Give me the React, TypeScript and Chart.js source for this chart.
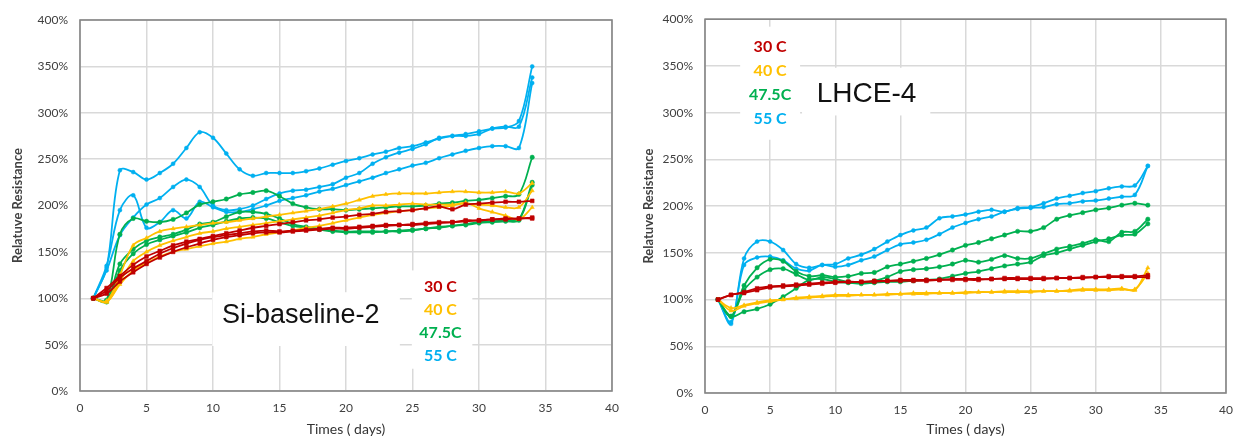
import React, { useEffect, useRef } from 'react';
import { Chart, registerables } from 'chart.js';

Chart.register(...registerables);

// ---------- data ----------
const days = [1, 2, 3, 4, 5, 6, 7, 8, 9, 10, 11, 12, 13, 14, 15, 16, 17, 18, 19, 20, 21, 22, 23, 24, 25, 26, 27, 28, 29, 30, 31, 32, 33, 34];
const xTicks = [0, 5, 10, 15, 20, 25, 30, 35, 40];
const yTicks = [0, 50, 100, 150, 200, 250, 300, 350, 400];
const tempLabels = ['30 C', '40 C', '47.5C', '55 C'];

// Si-baseline-2 (left chart)
const siRed1 = [100, 111, 124, 136, 145, 151, 157, 161, 164, 167, 170, 173, 176, 178, 180, 182, 184, 185, 187, 188, 190, 191, 193, 194, 195, 197, 199, 196, 201, 202, 203, 204, 204, 205];
const siRed2 = [100, 108, 122, 132, 140, 148, 154, 159, 163, 166, 168, 170, 172, 173, 172, 173, 174, 175, 176, 176, 177, 178, 179, 179, 180, 181, 182, 182, 184, 184, 185, 186, 186, 187];
const siRed3 = [100, 105, 118, 128, 137, 144, 150, 155, 159, 163, 166, 168, 170, 171, 171, 172, 173, 174, 175, 175, 176, 177, 178, 179, 179, 180, 181, 182, 183, 184, 185, 185, 186, 186];
const siYel1 = [100, 97, 125, 157, 165, 172, 175, 177, 179, 181, 182, 184, 186, 188, 190, 192, 194, 196, 199, 202, 206, 210, 212, 213, 213, 213, 214, 215, 215, 214, 214, 215, 213, 224];
const siYel2 = [100, 96, 118, 140, 150, 157, 162, 166, 170, 172, 175, 177, 179, 181, 183, 185, 187, 189, 192, 195, 197, 200, 200, 201, 202, 201, 201, 201, 202, 201, 200, 198, 198, 216];
const siYel3 = [100, 96, 115, 130, 138, 145, 150, 153, 156, 159, 161, 164, 166, 169, 171, 173, 176, 178, 181, 184, 187, 190, 192, 194, 195, 197, 198, 200, 203, 197, 193, 189, 185, 198];
const siGrn1 = [100, 98, 169, 186, 183, 182, 185, 192, 201, 204, 207, 212, 214, 216, 210, 202, 198, 196, 196, 195, 196, 197, 198, 199, 199, 200, 202, 203, 205, 206, 208, 210, 212, 252];
const siGrn2 = [100, 97, 137, 153, 162, 166, 169, 174, 180, 182, 188, 193, 193, 191, 186, 180, 177, 175, 173, 172, 172, 172, 172, 173, 174, 175, 177, 178, 180, 182, 183, 184, 185, 225];
const siGrn3 = [100, 96, 130, 148, 158, 163, 167, 171, 176, 179, 183, 186, 187, 186, 182, 178, 176, 174, 172, 171, 171, 171, 172, 172, 173, 175, 176, 178, 179, 181, 182, 183, 184, 222];
const siBlu1 = [100, 133, 238, 236, 228, 235, 245, 262, 279, 273, 256, 239, 232, 235, 235, 235, 237, 240, 244, 248, 251, 255, 258, 262, 264, 268, 272, 275, 277, 280, 283, 284, 291, 350];
const siBlu2 = [100, 135, 195, 211, 176, 182, 195, 186, 204, 198, 193, 193, 196, 200, 205, 208, 211, 215, 218, 222, 226, 230, 235, 239, 243, 246, 251, 255, 259, 262, 264, 264, 262, 332];
const siBlu3 = [100, 130, 168, 187, 201, 208, 220, 228, 220, 200, 195, 196, 200, 207, 213, 216, 217, 220, 223, 230, 235, 245, 252, 257, 261, 266, 273, 275, 275, 277, 283, 285, 285, 338];

// LHCE-4 (right chart)
const lhRed1 = [100, 105, 108, 112, 114, 115, 116, 117, 118, 119, 119, 119, 119, 120, 120, 120, 120, 121, 121, 121, 121, 122, 122, 122, 122, 122, 123, 123, 123, 124, 124, 124, 124, 124];
const lhRed2 = [100, 105, 107, 110, 113, 114, 115, 116, 117, 118, 119, 119, 120, 120, 121, 121, 121, 121, 122, 122, 122, 122, 123, 123, 123, 123, 123, 123, 124, 124, 125, 125, 125, 126];
const lhYel1 = [100, 91, 94, 97, 99, 100, 102, 103, 104, 105, 105, 105, 105, 106, 106, 107, 107, 107, 107, 108, 108, 108, 109, 109, 109, 109, 109, 110, 111, 111, 111, 112, 110, 134];
const lhYel2 = [100, 88, 93, 96, 98, 100, 101, 102, 103, 104, 104, 105, 105, 105, 106, 106, 106, 107, 107, 107, 108, 108, 108, 108, 108, 109, 109, 109, 110, 110, 110, 111, 111, 128];
const lhGrn1 = [100, 82, 115, 134, 143, 141, 130, 125, 126, 124, 125, 128, 129, 135, 138, 141, 144, 148, 153, 158, 161, 165, 169, 173, 173, 177, 186, 190, 193, 196, 198, 201, 203, 201];
const lhGrn2 = [100, 82, 110, 124, 132, 133, 127, 121, 124, 122, 119, 118, 120, 124, 130, 132, 133, 135, 138, 142, 140, 143, 147, 144, 144, 149, 154, 157, 160, 164, 162, 172, 173, 186];
const lhGrn3 = [100, 82, 87, 90, 95, 103, 112, 121, 122, 119, 118, 117, 118, 119, 119, 120, 121, 122, 125, 128, 130, 133, 136, 138, 140, 147, 150, 154, 158, 162, 165, 169, 170, 181];
const lhBlu1 = [100, 74, 144, 162, 162, 153, 138, 134, 137, 138, 144, 148, 154, 162, 169, 174, 177, 187, 189, 191, 194, 196, 194, 198, 199, 203, 208, 211, 214, 216, 219, 221, 222, 243];
const lhBlu2 = [100, 76, 137, 145, 146, 142, 133, 131, 137, 135, 137, 142, 146, 153, 159, 161, 164, 170, 177, 182, 186, 189, 194, 197, 198, 199, 202, 203, 205, 206, 208, 210, 212, 243];

// ---------- styles ----------
const RED = '#C00000';
const YEL = '#FFC000';
const GRN = '#00B050';
const BLU = '#00B0F0';
const tempColors = [RED, YEL, GRN, BLU];

const TICK_FONT = { family: 'Lato, "Open Sans", sans-serif', size: 12 };

type SeriesDef = { values: number[]; color: string; point: string; radius: number };

const siSeries: SeriesDef[] = [
  { values: siRed1, color: RED, point: 'rect', radius: 2.7 },
  { values: siRed2, color: RED, point: 'rect', radius: 2.7 },
  { values: siRed3, color: RED, point: 'rect', radius: 2.7 },
  { values: siYel1, color: YEL, point: 'triangle', radius: 2.4 },
  { values: siYel2, color: YEL, point: 'triangle', radius: 2.4 },
  { values: siYel3, color: YEL, point: 'triangle', radius: 2.4 },
  { values: siGrn1, color: GRN, point: 'circle', radius: 2.2 },
  { values: siGrn2, color: GRN, point: 'circle', radius: 2.2 },
  { values: siGrn3, color: GRN, point: 'circle', radius: 2.2 },
  { values: siBlu1, color: BLU, point: 'circle', radius: 2 },
  { values: siBlu2, color: BLU, point: 'circle', radius: 2 },
  { values: siBlu3, color: BLU, point: 'circle', radius: 2 },
];

const lhSeries: SeriesDef[] = [
  { values: lhRed1, color: RED, point: 'rect', radius: 2.7 },
  { values: lhRed2, color: RED, point: 'rect', radius: 2.7 },
  { values: lhYel1, color: YEL, point: 'triangle', radius: 2.4 },
  { values: lhYel2, color: YEL, point: 'triangle', radius: 2.4 },
  { values: lhGrn1, color: GRN, point: 'circle', radius: 2.2 },
  { values: lhGrn2, color: GRN, point: 'circle', radius: 2.2 },
  { values: lhGrn3, color: GRN, point: 'circle', radius: 2.2 },
  { values: lhBlu1, color: BLU, point: 'circle', radius: 2 },
  { values: lhBlu2, color: BLU, point: 'circle', radius: 2 },
];

type Box = { x0: number; x1: number; y0: number; y1: number };
type Label = { text: string; x: number; y: number; font: string; color: string };

type PanelSpec = {
  series: SeriesDef[];
  yAxisWidth: number;
  xAxisHeight: number;
  padTop: number;
  padRight: number;
  yTitlePad: number;
  boxes: Box[];
  labels: Label[];
};

const LEGEND_FONT = '700 16px Lato, "Open Sans", sans-serif';

const siSpec: PanelSpec = {
  series: siSeries,
  yAxisWidth: 80,
  xAxisHeight: 48,
  padTop: 20,
  padRight: 8,
  yTitlePad: 10,
  boxes: [
    { x0: 9.95, x1: 24.05, y0: 106.5, y1: 48.5 },
    { x0: 24.95, x1: 29.5, y0: 130, y1: 24 },
  ],
  labels: [
    { text: 'Si-baseline-2', x: 16.6, y: 81, font: '27px "Liberation Sans", Arial, sans-serif', color: '#111111' },
    { text: tempLabels[0], x: 27.1, y: 112, font: LEGEND_FONT, color: tempColors[0] },
    { text: tempLabels[1], x: 27.1, y: 87.5, font: LEGEND_FONT, color: tempColors[1] },
    { text: tempLabels[2], x: 27.1, y: 62.5, font: LEGEND_FONT, color: tempColors[2] },
    { text: tempLabels[3], x: 27.1, y: 38, font: LEGEND_FONT, color: tempColors[3] },
  ],
};

const lhSpec: PanelSpec = {
  series: lhSeries,
  yAxisWidth: 85,
  xAxisHeight: 46,
  padTop: 17,
  padRight: 8,
  yTitlePad: 21,
  boxes: [
    { x0: 2.7, x1: 7.3, y0: 392, y1: 271 },
    { x0: 7.45, x1: 17.3, y0: 348, y1: 297 },
  ],
  labels: [
    { text: 'LHCE-4', x: 12.4, y: 320, font: '28px "Liberation Sans", Arial, sans-serif', color: '#111111' },
    { text: tempLabels[0], x: 5.0, y: 370, font: LEGEND_FONT, color: tempColors[0] },
    { text: tempLabels[1], x: 5.0, y: 344.5, font: LEGEND_FONT, color: tempColors[1] },
    { text: tempLabels[2], x: 5.0, y: 319, font: LEGEND_FONT, color: tempColors[2] },
    { text: tempLabels[3], x: 5.0, y: 293.5, font: LEGEND_FONT, color: tempColors[3] },
  ],
};

function makeConfig(spec: PanelSpec): any {
  const framePlugin = {
    id: 'frameAndNotes',
    beforeDatasetsDraw(chart: any) {
      const { ctx, chartArea: a, scales } = chart;
      const xs = scales.x;
      const ys = scales.y;
      ctx.save();
      ctx.fillStyle = '#ffffff';
      for (const b of spec.boxes) {
        const x0 = xs.getPixelForValue(b.x0);
        const x1 = xs.getPixelForValue(b.x1);
        const y0 = ys.getPixelForValue(b.y0);
        const y1 = ys.getPixelForValue(b.y1);
        ctx.fillRect(x0, y0, x1 - x0, y1 - y0);
      }
      ctx.strokeStyle = '#858585';
      ctx.lineWidth = 1.6;
      ctx.strokeRect(a.left, a.top, a.right - a.left, a.bottom - a.top);
      ctx.textAlign = 'center';
      ctx.textBaseline = 'middle';
      for (const l of spec.labels) {
        ctx.font = l.font;
        ctx.fillStyle = l.color;
        ctx.fillText(l.text, xs.getPixelForValue(l.x), ys.getPixelForValue(l.y));
      }
      ctx.restore();
    },
  };

  return {
    type: 'line',
    data: {
      datasets: spec.series.map((s) => ({
        data: s.values.map((v, i) => ({ x: days[i], y: v })),
        borderColor: s.color,
        backgroundColor: s.color,
        pointBackgroundColor: s.color,
        pointBorderColor: s.color,
        pointStyle: s.point,
        pointRadius: s.radius,
        pointBorderWidth: 0.5,
        borderWidth: 1.8,
        tension: 0.35,
        fill: false,
      })),
    },
    options: {
      animation: false,
      responsive: false,
      devicePixelRatio: 1,
      layout: { padding: { top: spec.padTop, right: spec.padRight, left: 0, bottom: 0 } },
      plugins: { legend: { display: false }, tooltip: { enabled: false }, title: { display: false } },
      scales: {
        x: {
          type: 'linear',
          min: 0,
          max: 40,
          afterBuildTicks: (axis: any) => {
            axis.ticks = xTicks.map((v) => ({ value: v }));
          },
          afterFit: (axis: any) => {
            axis.height = spec.xAxisHeight;
            axis.paddingRight = 0;
            axis.paddingLeft = 0;
          },
          ticks: { font: TICK_FONT, color: '#404040', padding: 10, maxRotation: 0 },
          grid: { color: '#d9d9d9', lineWidth: 1.5, drawTicks: false },
          border: { display: false },
          title: {
            display: true,
            text: 'Times ( days)',
            font: { family: 'Lato, "Open Sans", sans-serif', size: 14 },
            color: '#333333',
            padding: { top: 0, bottom: 1 },
          },
        },
        y: {
          type: 'linear',
          min: 0,
          max: 400,
          afterBuildTicks: (axis: any) => {
            axis.ticks = yTicks.map((v) => ({ value: v }));
          },
          afterFit: (axis: any) => {
            axis.width = spec.yAxisWidth;
          },
          ticks: { font: TICK_FONT, color: '#404040', padding: 12, callback: (v: any) => v + '%' },
          grid: { color: '#d9d9d9', lineWidth: 1.5, drawTicks: false },
          border: { display: false },
          title: {
            display: true,
            text: 'Relatuve Resistance',
            font: { family: 'Lato, "Open Sans", sans-serif', size: 13, weight: 'bold' },
            color: '#404040',
            padding: { top: spec.yTitlePad, bottom: 0 },
          },
        },
      },
    },
    plugins: [framePlugin],
  };
}

function Panel({ left, width, spec }: { left: number; width: number; spec: PanelSpec }) {
  const ref = useRef<HTMLCanvasElement>(null);
  useEffect(() => {
    const chart = new Chart(ref.current as HTMLCanvasElement, makeConfig(spec));
    return () => chart.destroy();
  }, [spec]);
  return (
    <div style={{ position: 'absolute', left, top: 0, width, height: 439 }}>
      <canvas ref={ref} width={width} height={439} style={{ width, height: 439, display: 'block' }} />
    </div>
  );
}

export default function App() {
  return (
    <div style={{ position: 'absolute', left: 0, top: 0, width: 1234, height: 439, background: '#ffffff', overflow: 'hidden' }}>
      <Panel left={0} width={620} spec={siSpec} />
      <Panel left={620} width={614} spec={lhSpec} />
    </div>
  );
}
